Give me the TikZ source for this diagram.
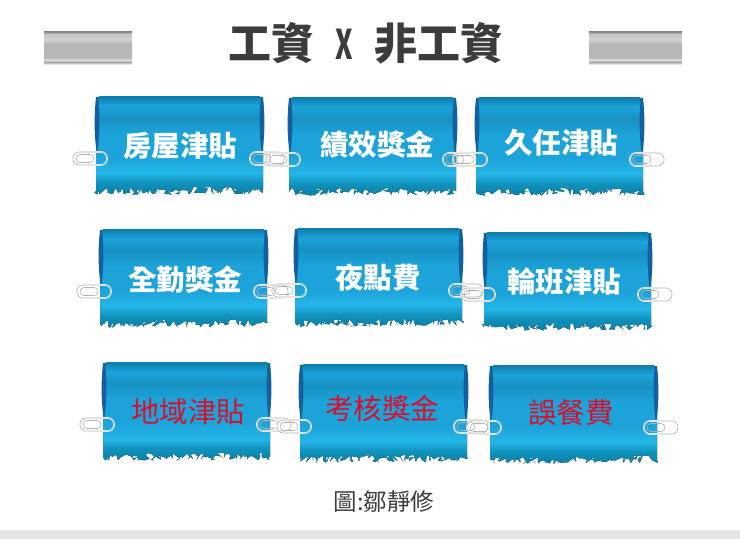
\documentclass[tikz,border=0pt]{standalone}
\usepackage{fontspec}
\setmainfont{Noto Sans CJK TC}
\usetikzlibrary{decorations.pathmorphing}
\definecolor{curlblue}{HTML}{14609E}
\definecolor{titlegray}{HTML}{3C3C3C}
\definecolor{wordred}{HTML}{D8102C}
\definecolor{bluehem}{HTML}{0A86AE}
\definecolor{bluelow}{HTML}{0F92BC}
\definecolor{blueglow}{HTML}{25B6E8}
\definecolor{bluemid}{HTML}{1CA3DA}
\definecolor{bluetop}{HTML}{1792C4}
\definecolor{blueroll}{HTML}{0C7CAA}
\pgfdeclareverticalshading{bannerfill}{100bp}{color(0bp)=(bluehem);color(27bp)=(bluehem);color(31bp)=(bluelow);color(36bp)=(blueglow);color(44bp)=(bluemid);color(56bp)=(bluemid);color(64bp)=(bluetop);color(70bp)=(bluemid);color(75bp)=(blueroll);color(100bp)=(blueroll)}
\pgfdeclareverticalshading{barfill}{100bp}{color(0bp)=(black!6);color(25bp)=(black!10);color(28bp)=(black!37);color(31bp)=(black!12);color(35bp)=(black!28);color(55bp)=(black!29);color(62bp)=(black!18);color(71bp)=(black!23);color(74bp)=(black!50);color(100bp)=(black!50)}
\tikzset{
  banner/.style={shading=bannerfill},
  curl/.style={fill=curlblue},
  clip line/.style={draw=white,line width=1.6pt,rounded corners=6pt},
  clip wire/.style={draw=gray!60,line width=0.6pt,rounded corners=6pt},
  word/.style={text=white,font=\bfseries\fontsize{28.5}{28.5}\selectfont},
  redword/.style={text=wordred,font=\fontsize{28.5}{28.5}\selectfont},
  bar/.style={shading=barfill}
}
\newcommand{\paperclip}[2]{
  \draw [clip line] (#1,#2) rectangle ++(34,13);
  \draw [clip wire] (#1,#2) rectangle ++(34,13);
  \draw [clip wire,rounded corners=4pt] (#1+3,#2+2.5) rectangle ++(18,8);
}
\begin{document}
\begin{tikzpicture}[x=1pt,y=-1pt]
\useasboundingbox (0,0) rectangle (740,539);
\pgfmathsetseed{73}

% title row
\fill [bar] (44,31) rectangle (132,64);
\fill [bar] (589,31) rectangle (682,64);
\node [text=titlegray,font=\bfseries\fontsize{43}{43}\selectfont] (title) at (366,43) {工資\hspace{21pt}\scalebox{0.62}[0.95]{X}\hspace{21pt}非工資};

% the nine banners: x, y, text x, text y, name, style, text
\foreach \x/\y/\tx/\ty/\name/\sty/\txt in {
  95/96/180/146/rent/word/房屋津貼, 288/97/377/145/merit/word/績效獎金, 475/97/561/143/tenure/word/久任津貼,
  99/229/185/280/attend/word/全勤獎金, 294/228/378/278/night/word/夜點費, 483/232/564/281/shift/word/輪班津貼,
  102/362/188/412/area/redword/地域津貼, 299/364/382/409/review/redword/考核獎金, 489/365/571/413/meal/redword/誤餐費}
{
  \fill [banner,decoration={random steps,segment length=1.3pt,amplitude=4pt}]
    (\x+1,\y+94) -- (\x+1,\y+6) .. controls (\x+1,\y+1) and (\x+4,\y) .. (\x+8,\y)
    -- (\x+161,\y) .. controls (\x+165,\y) and (\x+168,\y+1) .. (\x+168,\y+6) -- (\x+168,\y+94)
    decorate {-- (\x+1,\y+95)} -- cycle;
  \fill [curl] (\x+1,\y+1) .. controls (\x-1,\y+20) and (\x-1,\y+40) .. (\x+2,\y+58)
    .. controls (\x+5,\y+40) and (\x+5,\y+15) .. (\x+3,\y+1) -- cycle;
  \fill [curl] (\x+168,\y+1) .. controls (\x+170,\y+20) and (\x+170,\y+40) .. (\x+167,\y+58)
    .. controls (\x+164,\y+40) and (\x+164,\y+15) .. (\x+166,\y+1) -- cycle;
  \paperclip{\x-22}{\y+56}
  \paperclip{\x+155}{\y+56}
  \node [\sty] (\name) at (\tx,\ty) {\txt};
}

% credit and bottom strip
\node [text=titlegray,font=\fontsize{23.5}{23.5}\selectfont] (credit) at (384,502) {圖:鄒靜修};
\fill [black!10] (0,530) rectangle (740,539);
\end{tikzpicture}
\end{document}
